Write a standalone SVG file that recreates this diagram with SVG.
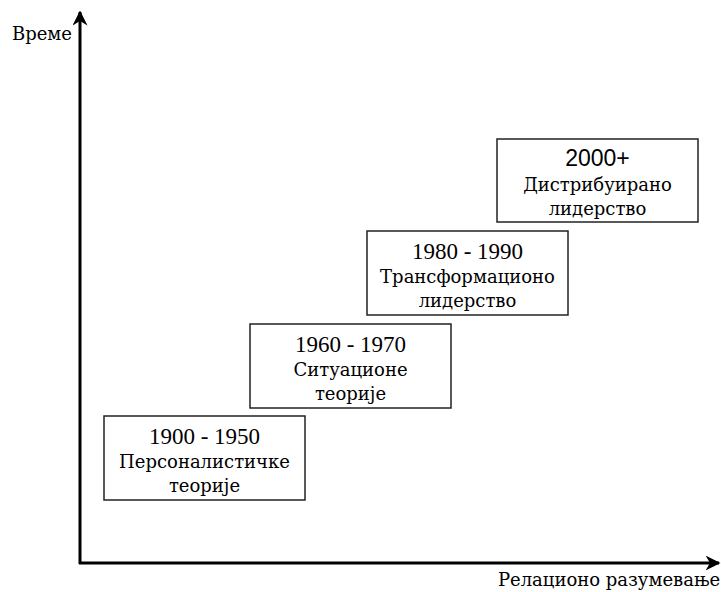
<svg xmlns="http://www.w3.org/2000/svg" width="721" height="592" viewBox="0 0 721 592">
<style>
text{font-family:"DejaVu Serif",serif;fill:#000;text-anchor:middle}
.yr{font-family:"Liberation Serif","DejaVu Serif",serif;font-size:23px}
.yrs{font-family:"Liberation Sans","DejaVu Sans",sans-serif;font-size:23px}
.lb{font-size:18px}
.ax{font-size:18px}
.box{fill:#fff;stroke:#222;stroke-width:1.5}
.axis{stroke:#000;stroke-width:3;fill:none}
</style>
<defs>
<marker id="ah" viewBox="0 0 10 10" refX="9" refY="5" markerWidth="5" markerHeight="5" orient="auto" markerUnits="strokeWidth">
<path d="M0,0 L10,5 L0,10 L3,5 Z" fill="#000"/>
</marker>
</defs>
<g id="connectors">
<line class="axis" x1="80" y1="564" x2="80" y2="12" marker-end="url(#ah)"/>
<line class="axis" x1="79" y1="563" x2="719" y2="563" marker-end="url(#ah)"/>
</g>
<g id="label-time"><text class="ax" x="42" y="40">Време</text></g>
<g id="label-relation"><text class="ax" x="609" y="586">Релационо разумевање</text></g>
<g id="box1">
<rect class="box" x="104" y="416" width="201" height="84"/>
<text class="yr" x="204.5" y="444">1900 - 1950</text>
<text class="lb" x="204.5" y="468">Персоналистичке</text>
<text class="lb" x="204.5" y="492">теорије</text>
</g>
<g id="box2">
<rect class="box" x="250" y="324" width="201" height="84"/>
<text class="yr" x="350.5" y="352">1960 - 1970</text>
<text class="lb" x="350.5" y="376">Ситуационе</text>
<text class="lb" x="350.5" y="400">теорије</text>
</g>
<g id="box3">
<rect class="box" x="367" y="231" width="201" height="84"/>
<text class="yr" x="467.5" y="259">1980 - 1990</text>
<text class="lb" x="467.5" y="283">Трансформационо</text>
<text class="lb" x="467.5" y="307">лидерство</text>
</g>
<g id="box4">
<rect class="box" x="497" y="139" width="201" height="83"/>
<text class="yrs" x="597.5" y="166">2000+</text>
<text class="lb" x="597.5" y="191">Дистрибуирано</text>
<text class="lb" x="597.5" y="215">лидерство</text>
</g>
</svg>
